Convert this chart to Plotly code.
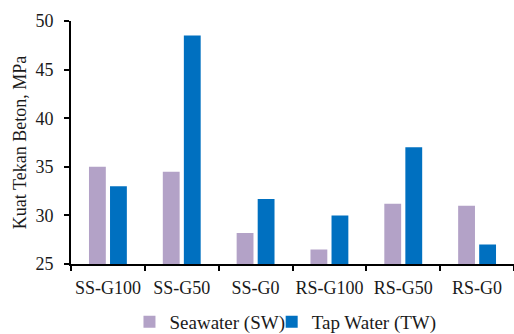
import plotly.graph_objects as go

categories = ["SS-G100", "SS-G50", "SS-G0", "RS-G100", "RS-G50", "RS-G0"]
seawater = [35.0, 34.5, 28.2, 26.5, 31.2, 31.0]
tap_water = [33.0, 48.5, 31.7, 30.0, 37.0, 27.0]
y_ticks = [25, 30, 35, 40, 45, 50]

font_family = "Liberation Serif"
legend_font = dict(family="Times New Roman", size=19, color="#1a1a1a")

fig = go.Figure()
fig.add_trace(go.Bar(name="Seawater (SW)", x=categories, y=seawater, legend="legend",
                     marker=dict(color="#B3A2C7", line=dict(width=0))))
fig.add_trace(go.Bar(name="Tap Water (TW)", x=categories, y=tap_water, legend="legend2",
                     marker=dict(color="#0070C0", line=dict(width=0))))

fig.update_layout(
    width=514, height=334,
    margin=dict(l=71, r=0, t=21, b=70, autoexpand=False),
    paper_bgcolor="white", plot_bgcolor="white",
    barmode="group", bargap=0.43, bargroupgap=0.2,
    font=dict(family=font_family, size=18, color="#1a1a1a"),
    legend=dict(orientation="h", x=0.132, xanchor="left", y=-0.16, yanchor="top",
                font=legend_font, itemwidth=30, bgcolor="rgba(0,0,0,0)"),
    legend2=dict(orientation="h", x=0.453, xanchor="left", y=-0.16, yanchor="top",
                 font=legend_font, itemwidth=30, bgcolor="rgba(0,0,0,0)"),
    showlegend=True,
)
fig.update_xaxes(
    showline=True, linecolor="black", linewidth=2, automargin=False, tickangle=0,
    ticks="outside", tickson="boundaries", ticklen=5, tickwidth=2, tickcolor="black",
    ticklabelstandoff=6,
    showgrid=False, tickfont=dict(family=font_family, size=18),
)
fig.update_yaxes(
    range=[25, 50], tickvals=y_ticks, showline=True, linecolor="black", linewidth=2,
    automargin=False, ticklabelstandoff=7,
    ticks="outside", ticklen=5, tickwidth=2, tickcolor="black",
    showgrid=False, zeroline=False, tickfont=dict(family=font_family, size=18),
    title=dict(text="Kuat Tekan Beton, MPa", font=dict(family=font_family, size=18), standoff=4),
)

fig.write_html(
    "out.html",
    config={"displayModeBar": False},
    post_script="document.body.style.margin='0';document.body.style.overflow='hidden';",
)
